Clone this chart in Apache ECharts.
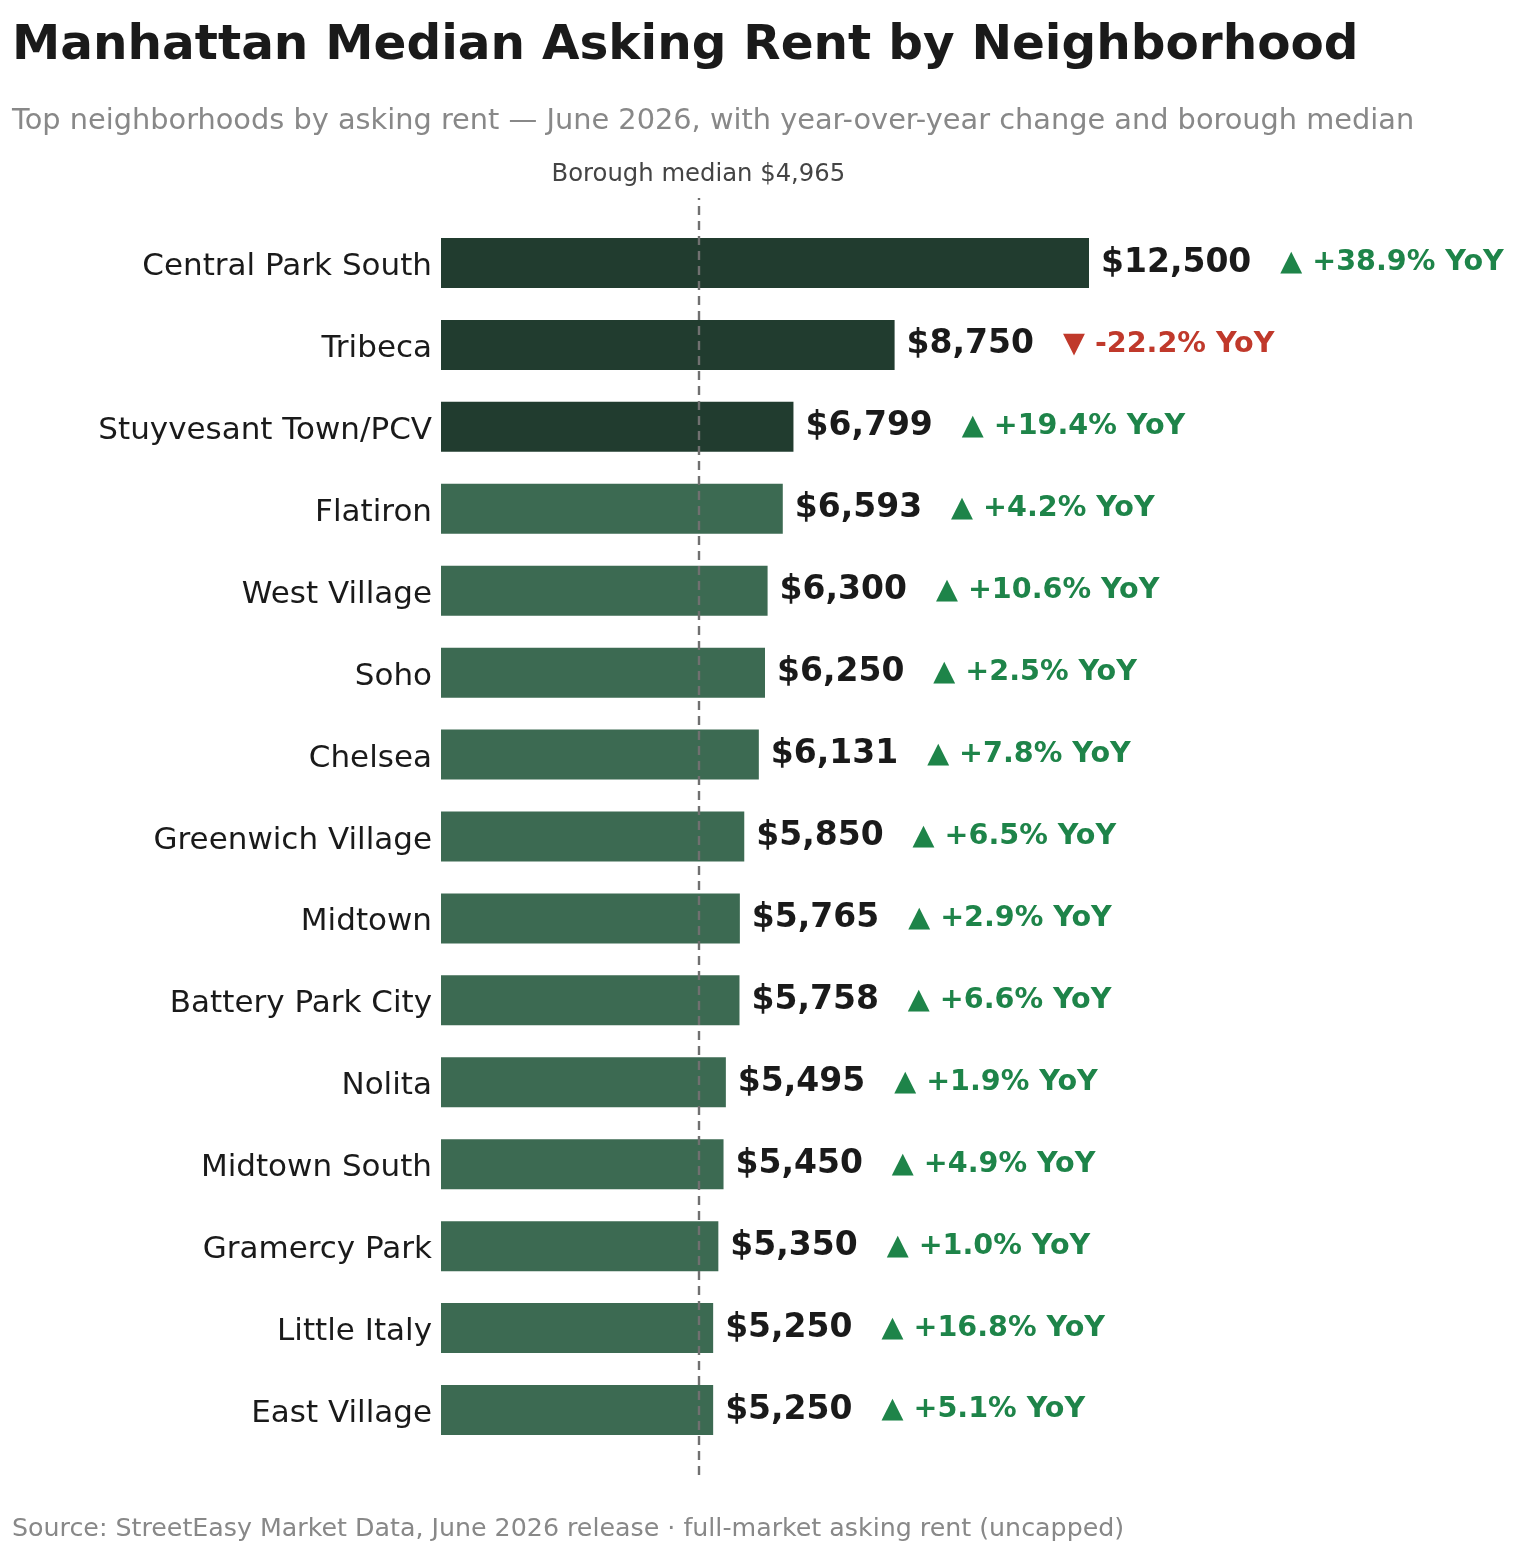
<!DOCTYPE html>
<html><head><meta charset="utf-8">
<script src="https://cdn.jsdelivr.net/npm/echarts@6/dist/echarts.min.js"></script>
<style>html,body{margin:0;padding:0;background:#fff}#c{width:1522px;height:1548px}</style>
</head><body><div id="c"></div>
<script>
const categories = ['Central Park South','Tribeca','Stuyvesant Town/PCV','Flatiron','West Village','Soho','Chelsea','Greenwich Village','Midtown','Battery Park City','Nolita','Midtown South','Gramercy Park','Little Italy','East Village'];
const rents = [12500,8750,6799,6593,6300,6250,6131,5850,5765,5758,5495,5450,5350,5250,5250];
const yoyChange = [38.9,-22.2,19.4,4.2,10.6,2.5,7.8,6.5,2.9,6.6,1.9,4.9,1.0,16.8,5.1];
const boroughMedian = 4965;
const highlightCount = 3;

const FONT = 'DejaVu Sans';
const fmt = v => '$' + v.toLocaleString('en-US');
const chart = echarts.init(document.getElementById('c'), null, {renderer:'canvas'});

const barData = rents.map((v,i)=>({
  value: v,
  itemStyle: {color: i < highlightCount ? '#213c2f' : '#3c6a52'}
}));

chart.setOption({
  backgroundColor:'#ffffff',
  animation:false,
  textStyle:{fontFamily:FONT},
  title:[
    {text:'Manhattan Median Asking Rent by Neighborhood', left:7, top:17,
     textStyle:{fontFamily:FONT, fontSize:48.5, fontWeight:'bold', color:'#1a1a1a'}},
    {text:'Top neighborhoods by asking rent \u2014 June 2026, with year-over-year change and borough median', left:7, top:102,
     textStyle:{fontFamily:FONT, fontSize:28.8, fontWeight:'normal', color:'#888888'}},
    {text:'Source: StreetEasy Market Data, June 2026 release \u00b7 full-market asking rent (uncapped)', left:7, top:1512,
     textStyle:{fontFamily:FONT, fontSize:25.3, fontWeight:'normal', color:'#888888'}}
  ],
  grid:[
    {left:441, right:44.2, top:222, bottom:1548-1451, containLabel:false},
    {left:441, right:44.2, top:198, bottom:1548-1475, containLabel:false}
  ],
  xAxis:[
    {type:'value', min:0, max:20000, gridIndex:0, show:false},
    {type:'value', min:0, max:20000, gridIndex:1, show:false}
  ],
  yAxis:[
    {type:'category', data:categories, inverse:true, gridIndex:0,
     axisLine:{show:false}, axisTick:{show:false}, splitLine:{show:false},
     axisLabel:{margin:9, formatter: v => '{c|' + v + '}',
       rich:{c:{fontFamily:FONT, fontSize:31, color:'#1a1a1a', padding:[8,0,0,0]}}}},
    {type:'value', min:0, max:1, gridIndex:1, show:false}
  ],
  series:[
    {type:'line', xAxisIndex:1, yAxisIndex:1, data:[], z:1, silent:true,
     markLine:{symbol:'none', silent:true, animation:false,
       lineStyle:{type:[9,6], color:'#707070', width:2.4},
       label:{show:true, position:'end', distance:11, formatter:'Borough median ' + fmt(boroughMedian),
         fontFamily:FONT, fontSize:24.3, color:'#444444'},
       data:[{xAxis:boroughMedian}]}},
    {type:'bar', xAxisIndex:0, yAxisIndex:0, data:barData, barWidth:50, z:3,
     label:{show:true, position:'right', distance:12,
       formatter: p => {
         const c = yoyChange[p.dataIndex];
         const up = c >= 0;
         const txt = (up ? '\u25b2 +' : '\u25bc ') + c.toFixed(1) + '% YoY';
         return '{v|' + fmt(p.value) + '}{' + (up ? 'g' : 'r') + '|' + txt + '}';
       },
       rich:{
         v:{fontFamily:FONT, fontSize:33, fontWeight:'bold', color:'#1a1a1a'},
         g:{fontFamily:FONT, fontSize:28.6, fontWeight:'bold', color:'#1e8449', padding:[0,0,0,29]},
         r:{fontFamily:FONT, fontSize:28.6, fontWeight:'bold', color:'#c0392b', padding:[0,0,0,29]}
       }}}
  ]
});
</script></body></html>
